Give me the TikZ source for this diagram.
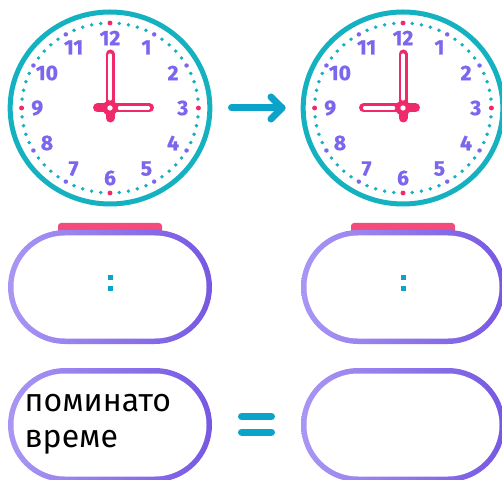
\documentclass[tikz,border=0pt]{standalone}
\usepackage{fontspec}
\setmainfont{Fira Sans}
\newfontfamily\numfont{Fira Sans}[BoldFeatures={FakeBold=0.9}]
\usetikzlibrary{shapes.misc}
\definecolor{tealc}{HTML}{14B1C0}
\definecolor{arrowc}{HTML}{0BA3C9}
\definecolor{numc}{HTML}{7B67EE}
\definecolor{handc}{HTML}{F0296B}
\definecolor{pinkbar}{HTML}{F24B7C}
\definecolor{pillL}{HTML}{A996F4}
\definecolor{pillR}{HTML}{7658E3}
\newcommand\myclock[3]{%
  \begin{scope}[shift={(#1,371)}, xscale=1.04]
    \draw[tealc, line width=5] (0,0) circle (96);
    \foreach \i in {0,...,59}{%
      \pgfmathtruncatemacro\m{mod(\i,5)}%
      \pgfmathtruncatemacro\q{mod(\i,15)}%
      \ifnum\q=0 \fill[handc] (\i*6:85) circle (2.4);%
      \else\ifnum\m=0 \fill[numc] (\i*6:85) circle (2.2);%
      \else \fill[tealc] (\i*6:85) circle (1.9);\fi\fi
    }
    \foreach \n in {1,...,12}{\node[num] (#3n\n) at ({90-30*\n}:70) {\n};}
    \draw[handline] (0,-10) -- (0,54);
    \draw[handline] ({-12*#2},0) -- ({38*#2},0);
    \fill[handc] (0,0) circle (7.5);
    \draw[handin] (0,9) -- (0,53);
    \draw[handin] ({9*#2},0) -- ({37*#2},0);
    \fill[white] (0,0) circle (2.6);
  \end{scope}}
\begin{document}
\begin{tikzpicture}[x=1pt,y=1pt,
  pillout/.style={rounded rectangle, minimum width=204, minimum height=114, inner sep=0, outer sep=0, left color=pillL, right color=pillR, draw=none},
  pillin/.style={rounded rectangle, minimum width=193, minimum height=103, inner sep=0, outer sep=0, fill=white},
  num/.style={text=numc, font=\fontsize{21}{21}\selectfont\numfont\bfseries, inner sep=0},
  handline/.style={handc, line width=9, line cap=round},
  handin/.style={white, line width=3.2, line cap=round},
  tealstroke/.style={arrowc, line width=7, line cap=round, line join=round},
  colondot/.style={fill=arrowc, minimum size=5, inner sep=0, outer sep=0},
  txt/.style={font=\fontsize{32}{36}\selectfont, inner sep=0, anchor=base west},
  pinkstyle/.style={fill=pinkbar, rounded corners=3}]
\useasboundingbox (0,0) rectangle (502,479);
\fill[white] (0,0) rectangle (502,479);
% clocks
\myclock{110}{1}{c1}
\myclock{403}{-1}{c2}
% arrow
\coordinate (a1) at (231.5,371);
\coordinate (a2) at (282,371);
\coordinate (a3) at (271,382);
\coordinate (a4) at (271,360);
\draw[tealstroke] (a1) -- (a2);
\draw[tealstroke] (a3) -- (a2) -- (a4);
% row 2
\fill[pinkstyle] (58,243) rectangle (162,256);
\fill[pinkstyle] (351,243) rectangle (455,256);
\node[pillout] (b1o) at (110,192) {};
\node[pillin] (b1i) at (110,192) {};
\node[colondot] (col1a) at (110,201) {};
\node[colondot] (col1b) at (110,190) {};
\node[pillout] (b2o) at (403,192) {};
\node[pillin] (b2i) at (403,192) {};
\node[colondot] (col2a) at (403,201) {};
\node[colondot] (col2b) at (403,190) {};
% row 3
\node[pillout] (b3o) at (110,54) {};
\node[pillin] (b3i) at (110,54) {};
\node[txt] (t1) at (24.5,68) {поминато};
\node[txt] (t2) at (24.5,32) {време};
\coordinate (e1) at (241.5,62.5);
\coordinate (e2) at (271.5,62.5);
\coordinate (e3) at (241.5,47);
\coordinate (e4) at (271.5,47);
\draw[tealstroke] (e1) -- (e2);
\draw[tealstroke] (e3) -- (e4);
\node[pillout] (b4o) at (403,54) {};
\node[pillin] (b4i) at (403,54) {};
\end{tikzpicture}
\end{document}
